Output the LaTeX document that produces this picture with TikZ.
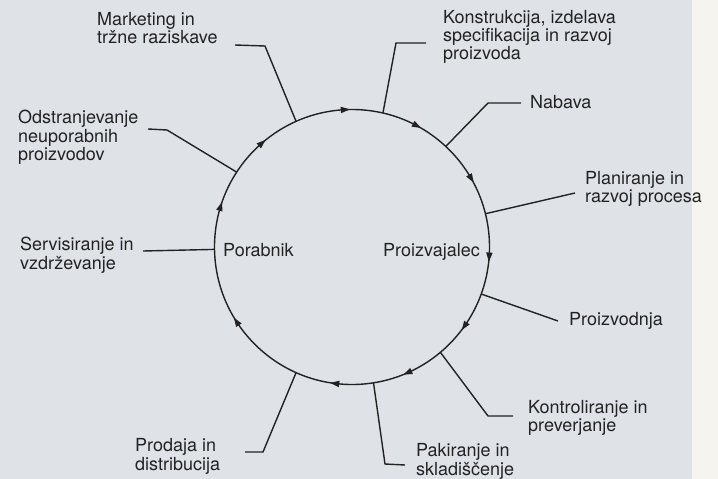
\documentclass[tikz,border=0pt]{standalone}
\usepackage{fontspec}
\setmainfont{TeX Gyre Heros}
\usetikzlibrary{calc}
\definecolor{ink}{HTML}{222222}
\definecolor{paper}{HTML}{DFE3E8}
\definecolor{margin}{HTML}{F5F4EE}
\begin{document}
\begin{tikzpicture}[x=1pt,y=-1pt,
  conn/.style={draw=ink, line width=1.4pt, line join=miter},
  lbl/.style={anchor=north west, align=left, inner sep=0pt, text=ink,
              font=\fontsize{18}{18.4}\selectfont},
  ring/.style={circle, draw=ink, line width=1.4pt, minimum size=275pt,
               inner sep=0pt, outer sep=0pt},
  tip/.style={fill=ink}]
\useasboundingbox (0,0) rectangle (718,479);
\fill[paper] (0,0) rectangle (692,479);
\fill[margin] (692,0) rectangle (718,479);

% cycle
\node[ring] (c) at (352,247) {};
\foreach \a in {93.8,62,30.7,356.3,325.4,294,263,213.3,163,131}
  \fill[tip, shift={(c.\a)}, rotate=\a-90] (5pt,0pt) -- (-4pt,3.3pt) -- (-4pt,-3.3pt) -- cycle;

\node[lbl] (por) at (223,243) {Porabnik};
\node[lbl] (pro) at (383,243) {Proizvajalec};

% labels
\node[lbl] (mk) at (97,12) {Marketing in\\tržne raziskave};
\node[lbl] (od) at (18,110.3) {Odstranjevanje\\neuporabnih\\proizvodov};
\node[lbl] (se) at (20,237) {Servisiranje in\\vzdrževanje};
\node[lbl] (pd) at (135,438.5) {Prodaja in\\distribucija};
\node[lbl] (pa) at (416,443.5) {Pakiranje in\\skladiščenje};
\node[lbl] (ko) at (528,399.7) {Kontroliranje in\\preverjanje};
\node[lbl] (pv) at (569,312) {Proizvodnja};
\node[lbl] (pl) at (585,171) {Planiranje in\\razvoj procesa};
\node[lbl] (na) at (530,95) {Nabava};
\node[lbl] (ks) at (443,9.7) {Konstrukcija, izdelava\\specifikacija in razvoj\\proizvoda};

% connector bends and free ends
\coordinate (mkb) at (265,46);  \coordinate (mke) at (235,45);
\coordinate (odb) at (167,130); \coordinate (ode) at (148,129);
\coordinate (see) at (143,251);
\coordinate (pdb) at (263,452); \coordinate (pde) at (245,452);
\coordinate (pab) at (385,464); \coordinate (pae) at (405,465);
\coordinate (kob) at (488,416); \coordinate (koe) at (513,416);
\coordinate (pve) at (558,321);
\coordinate (ple) at (575,193);
\coordinate (nab) at (488,103); \coordinate (nae) at (521,103);
\coordinate (ksb) at (396,43);  \coordinate (kse) at (426,43);

\draw[conn] (c.114.2) -- (mkb) -- (mke);
\draw[conn] (c.147.3) -- (odb) -- (ode);
\draw[conn] (c.181) -- (see);
\draw[conn] (c.246.6) -- (pdb) -- (pde);
\draw[conn] (c.279.6) -- (pab) -- (pae);
\draw[conn] (c.310) -- (kob) -- (koe);
\draw[conn] (c.340) -- (pve);
\draw[conn] (c.14.3) -- (ple);
\draw[conn] (c.47.3) -- (nab) -- (nae);
\draw[conn] (c.77.1) -- (ksb) -- (kse);
\end{tikzpicture}
\end{document}
